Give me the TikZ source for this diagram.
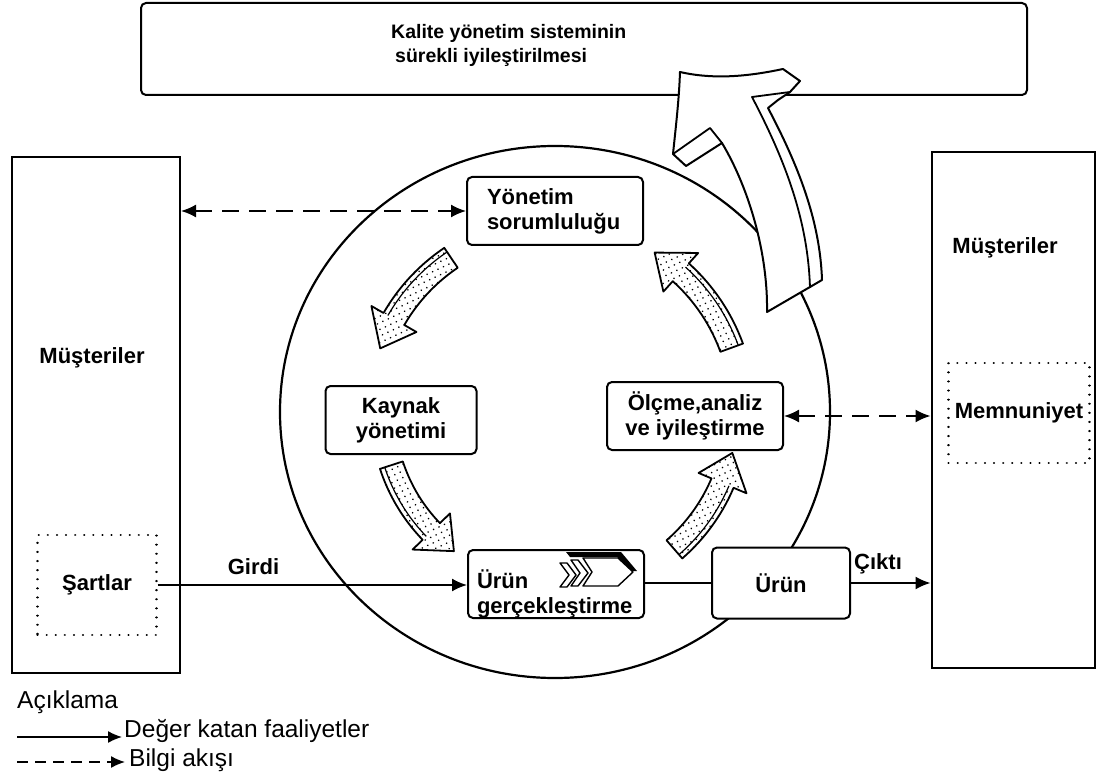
\documentclass[tikz,border=0pt]{standalone}
\usepackage{fontspec}
\setmainfont{Liberation Sans}
\usetikzlibrary{arrows.meta}
\usetikzlibrary{patterns.meta}

% curved dotted block arrow round the circle: start angle, end angle, radius
\newcommand{\cyclearrow}[3]{%
    \draw[cyclearr] plot[variable=\t, domain=#1:#2+10, samples=20] ({555+(#3+12)*cos(\t)}, {412+(#3+12)*sin(\t)})
        -- ({555+(#3+26)*cos(#2+10)}, {412+(#3+26)*sin(#2+10)})
        -- ({555+(#3)*cos(#2)}, {412+(#3)*sin(#2)})
        -- ({555+(#3-26)*cos(#2+10)}, {412+(#3-26)*sin(#2+10)})
        -- ({555+(#3-12)*cos(#2+10)}, {412+(#3-12)*sin(#2+10)})
        -- plot[variable=\t, domain=#2+10:#1, samples=20] ({555+(#3-12)*cos(\t)}, {412+(#3-12)*sin(\t)})
        -- cycle;
    \draw[line width=1.2pt] plot[variable=\t, domain=#1:#2+10, samples=20] ({555+(#3+7)*cos(\t)}, {412+(#3+7)*sin(\t)});
}

\begin{document}
\begin{tikzpicture}[x=1pt, y=-1pt,
    procbox/.style={draw, line width=2pt, fill=white, rounded corners=5pt, inner sep=0pt, font=\bfseries\fontsize{22}{25}\selectfont},
    custbox/.style={draw, line width=2pt, fill=white, inner sep=0pt},
    reqbox/.style={draw, line width=2.2pt, dash pattern=on 0.1pt off 9pt, line cap=round, inner sep=0pt, font=\bfseries\fontsize{22}{25}\selectfont},
    lbl/.style={inner sep=0pt, font=\bfseries\fontsize{22}{25}\selectfont},
    legend/.style={inner sep=0pt, font=\fontsize{24.5}{28}\selectfont},
    infoarr/.style={line width=1.8pt, dash pattern=on 17pt off 10pt, {Latex[length=15pt,width=13pt]}-{Latex[length=15pt,width=13pt]}},
    flowarr/.style={line width=1.8pt, -{Latex[length=15pt,width=13pt]}},
    cyclearr/.style={line width=1.8pt, line join=round, fill=white, postaction={pattern={Dots[distance=6pt,radius=0.9pt,angle=25]}}},
    ]
    \useasboundingbox (0,0) rectangle (1101,778);

    \node[procbox, minimum width=886pt, minimum height=92pt] (kys) at (584,49) {};
    \node[lbl, anchor=west, align=left, font=\bfseries\fontsize{19.5}{24}\selectfont] (kystext) at (391,45)
        {Kalite yönetim sisteminin\\\hspace{4pt}sürekli iyileştirilmesi};

    \draw[line width=2.2pt] (555,412) ellipse [x radius=275, y radius=266];

    % big arrow out of the circle
    \draw[line width=2pt, fill=white, line join=round]
        (767,312) .. controls (768,255) and (750,190) .. (722,143)
        -- (686,166) -- (673,154) .. controls (676,125) and (679,100) .. (680,72)
        .. controls (715,80) and (750,76) .. (783,69)
        -- (800,81) -- (790,92) -- (778,100) -- (768,108)
        .. controls (798,165) and (820,220) .. (822,280)
        -- cycle;
    \draw[line width=1.8pt, line join=round] (673,154) -- (710,128) -- (722,143);
    \draw[line width=1.8pt, line join=round] (790,92) -- (752,97) .. controls (785,160) and (808,220) .. (810,288);

    \cyclearrow{-20}{-58}{188}
    \cyclearrow{-124}{-160}{186}
    \cyclearrow{162}{126}{172}
    \cyclearrow{49}{13}{182}

    \node[procbox, minimum width=176pt, minimum height=68pt, text width=136pt, align=left] (yonetim) at (555,211) {Yönetim\\sorumluluğu};
    \node[procbox, minimum width=151pt, minimum height=68pt, align=center] (kaynak) at (401,420) {Kaynak\\yönetimi};
    \node[procbox, minimum width=176pt, minimum height=68pt, align=center] (olcme) at (695,416) {Ölçme,analiz\\ve iyileştirme};
    \node[procbox, minimum width=176pt, minimum height=68pt, text width=158pt, align=left, text depth=9pt] (urunG) at (556,584) {Ürün\\gerçekleştirme};
    \node[procbox, minimum width=138pt, minimum height=71pt] (urun) at (781,583) {Ürün};

    % icon in the product box
    \fill (566,552) -- (621,552) -- (637,571) -- (631,571) -- (617,557) -- (570,557) -- cycle;
    \draw[line width=1.4pt, fill=white, line join=round] (583,558) -- (618,558) -- (633,572) -- (618,586) -- (583,586) -- (592,572) -- cycle;
    \draw[line width=1.4pt, fill=white, line join=round] (571,560) -- (578,560) -- (588,573) -- (578,586) -- (571,586) -- (580,573) -- cycle;
    \draw[line width=1.4pt, fill=white, line join=round] (560,563) -- (567,563) -- (576,575) -- (567,587) -- (560,587) -- (569,575) -- cycle;

    \node[custbox, minimum width=168pt, minimum height=516pt] (musL) at (96,415) {};
    \node[lbl] (musLtext) at (92,358) {Müşteriler};
    \node[reqbox, minimum width=119pt, minimum height=100pt] (sartlar) at (97,585) {Şartlar};

    \node[custbox, minimum width=163pt, minimum height=516pt] (musR) at (1013,410) {};
    \node[lbl] (musRtext) at (1005,248) {Müşteriler};
    \node[reqbox, minimum width=141pt, minimum height=100pt] (memnun) at (1019,413) {Memnuniyet};

    \draw[infoarr] (yonetim.west -| musL.east) -- (yonetim.west);
    \draw[infoarr] (olcme.east) -- (olcme.east -| musR.west);
    \draw[flowarr] (sartlar.east) -- (urunG.west |- sartlar.east) node[lbl, pos=0.31, above=9pt] (girdi) {Girdi};
    \draw[line width=1.8pt] (urunG.east |- urun.west) -- (urun.west);
    \draw[flowarr] (urun.east) -- (urun.east -| musR.west) node[lbl, pos=0.34, above=8pt] (cikti) {Çıktı};

    % legend
    \node[legend, anchor=west] (aciklama) at (17,702) {Açıklama};
    \coordinate (lgA) at (17,737);
    \node[legend, anchor=west] (deger) at (124,731) {Değer katan faaliyetler};
    \draw[line width=1.4pt, -{Latex[length=14pt,width=12pt]}] (lgA) -- ([xshift=-2pt]lgA -| deger.west);
    \coordinate (lgB) at (17,762);
    \node[legend, anchor=west] (bilgi) at (129,760) {Bilgi akışı};
    \draw[line width=1.4pt, dash pattern=on 11pt off 7pt, -{Latex[length=14pt,width=12pt]}] (lgB) -- ([xshift=-4pt]lgB -| bilgi.west);
\end{tikzpicture}
\end{document}
